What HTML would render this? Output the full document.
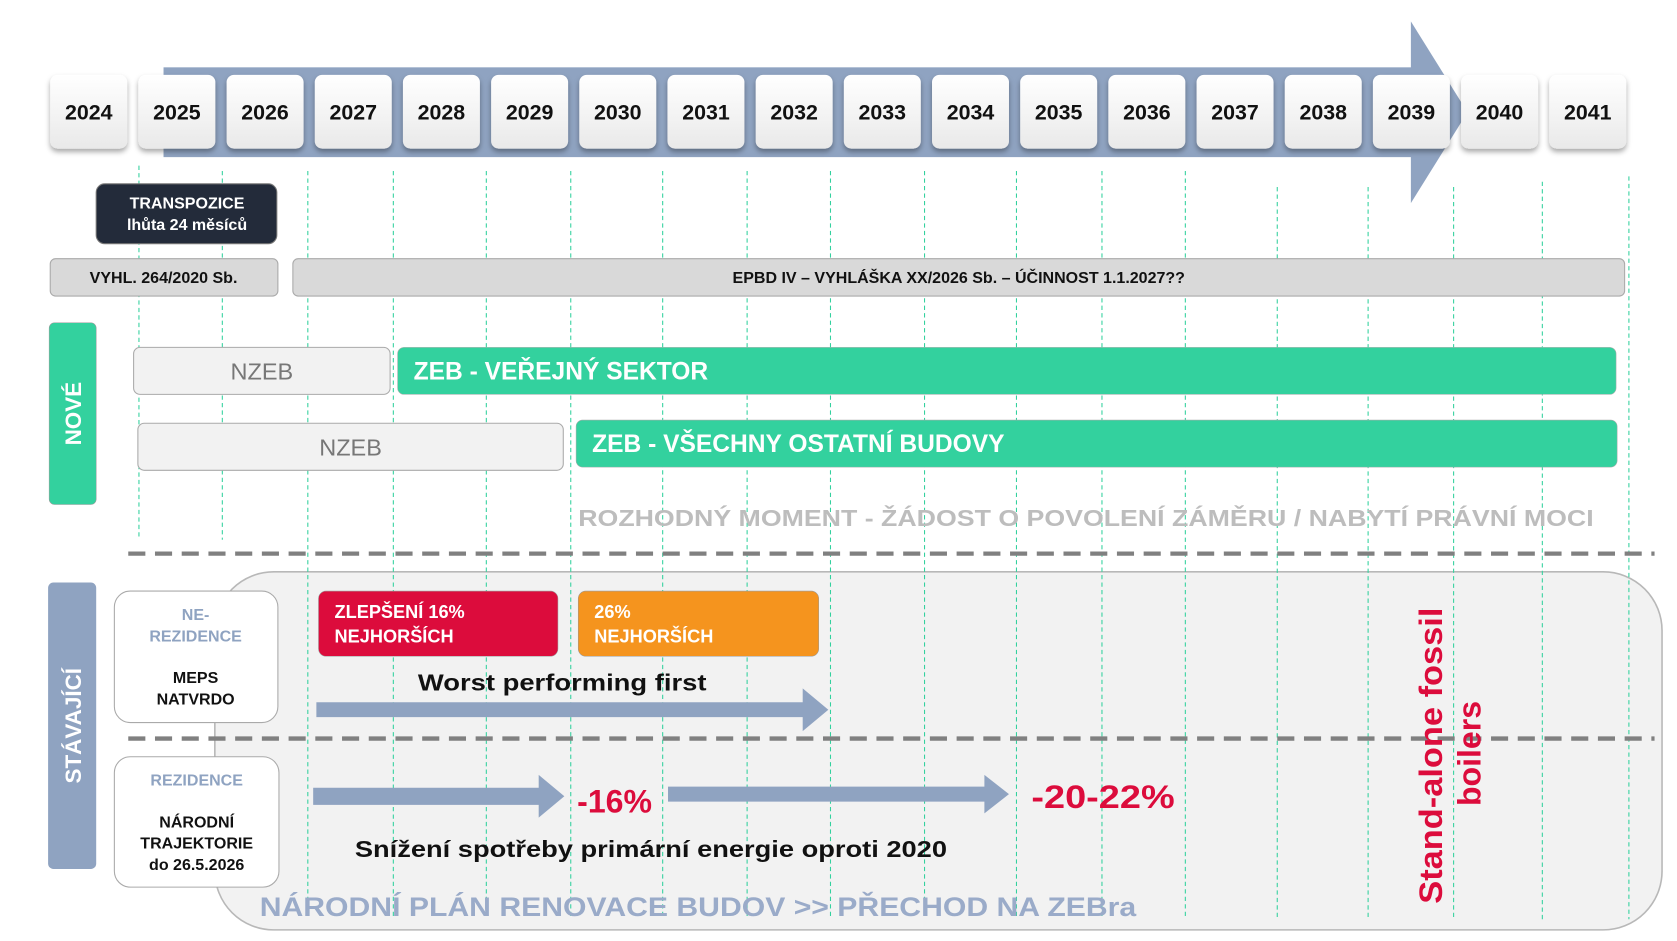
<!DOCTYPE html>
<html><head><meta charset="utf-8"><style>
html,body{margin:0;padding:0;background:#fff;width:1677px;height:941px;overflow:hidden}
svg{display:block}
text{font-family:"Liberation Sans",sans-serif;font-weight:bold}
</style></head><body>
<svg width="1677" height="941" viewBox="0 0 1569 880.4" preserveAspectRatio="none" xmlns="http://www.w3.org/2000/svg">
<defs>
<filter id="sh" x="-20%" y="-20%" width="140%" height="150%"><feDropShadow dx="0" dy="3" stdDeviation="2.5" flood-color="#000" flood-opacity="0.35"/></filter>
<linearGradient id="yg" x1="0" y1="0" x2="0" y2="1"><stop offset="0" stop-color="#ffffff"/><stop offset="1" stop-color="#e9e9e9"/></linearGradient>
</defs>
<rect x="153" y="63" width="1170" height="84" fill="#8fa3c1"/>
<polygon points="1320,20 1373,105 1320,190" fill="#8fa3c1"/>
<rect x="201" y="535" width="1354" height="335" rx="55" fill="#f2f2f2" stroke="#b8b8b8" stroke-width="1.5"/>
<g stroke="#33d19e" stroke-width="1" stroke-dasharray="4,3">
<line x1="130" y1="155" x2="130" y2="505"/>
<line x1="208" y1="160" x2="208" y2="505"/>
<line x1="288" y1="160" x2="288" y2="860"/>
<line x1="368" y1="160" x2="368" y2="860"/>
<line x1="455" y1="160" x2="455" y2="860"/>
<line x1="534" y1="160" x2="534" y2="860"/>
<line x1="620" y1="160" x2="620" y2="860"/>
<line x1="699" y1="160" x2="699" y2="860"/>
<line x1="777" y1="160" x2="777" y2="860"/>
<line x1="865" y1="160" x2="865" y2="860"/>
<line x1="951" y1="160" x2="951" y2="860"/>
<line x1="1031" y1="160" x2="1031" y2="860"/>
<line x1="1109" y1="160" x2="1109" y2="860"/>
<line x1="1195" y1="175" x2="1195" y2="860"/>
<line x1="1280" y1="175" x2="1280" y2="860"/>
<line x1="1360" y1="175" x2="1360" y2="860"/>
<line x1="1443" y1="170" x2="1443" y2="860"/>
<line x1="1524" y1="165" x2="1524" y2="860"/>
</g>
<g font-size="20" text-anchor="middle" fill="#111">
<g filter="url(#sh)" fill="url(#yg)">
<rect x="47" y="70" width="72" height="69" rx="7"/><rect x="129.5" y="70" width="72" height="69" rx="7"/><rect x="212" y="70" width="72" height="69" rx="7"/><rect x="294.5" y="70" width="72" height="69" rx="7"/><rect x="377" y="70" width="72" height="69" rx="7"/><rect x="459.5" y="70" width="72" height="69" rx="7"/><rect x="542" y="70" width="72" height="69" rx="7"/><rect x="624.5" y="70" width="72" height="69" rx="7"/><rect x="707" y="70" width="72" height="69" rx="7"/><rect x="789.5" y="70" width="72" height="69" rx="7"/><rect x="872" y="70" width="72" height="69" rx="7"/><rect x="954.5" y="70" width="72" height="69" rx="7"/><rect x="1037" y="70" width="72" height="69" rx="7"/><rect x="1119.5" y="70" width="72" height="69" rx="7"/><rect x="1202" y="70" width="72" height="69" rx="7"/><rect x="1284.5" y="70" width="72" height="69" rx="7"/><rect x="1367" y="70" width="72" height="69" rx="7"/><rect x="1449.5" y="70" width="72" height="69" rx="7"/>
</g>
<text x="83" y="112">2024</text><text x="165.5" y="112">2025</text><text x="248" y="112">2026</text><text x="330.5" y="112">2027</text><text x="413" y="112">2028</text><text x="495.5" y="112">2029</text><text x="578" y="112">2030</text><text x="660.5" y="112">2031</text><text x="743" y="112">2032</text><text x="825.5" y="112">2033</text><text x="908" y="112">2034</text><text x="990.5" y="112">2035</text><text x="1073" y="112">2036</text><text x="1155.5" y="112">2037</text><text x="1238" y="112">2038</text><text x="1320.5" y="112">2039</text><text x="1403" y="112">2040</text><text x="1485.5" y="112">2041</text>
</g>
<rect x="90" y="172" width="169" height="56" rx="8" fill="#232b3a" stroke="#777" stroke-width="1"/>
<text x="175" y="195" font-size="15" fill="#fff" text-anchor="middle">TRANSPOZICE</text>
<text x="175" y="215" font-size="15" fill="#fff" text-anchor="middle">lhůta 24 měsíců</text>
<rect x="47" y="242" width="213" height="35" rx="5" fill="#d9d9d9" stroke="#aaa"/>
<text x="153" y="265" font-size="15" fill="#111" text-anchor="middle">VYHL. 264/2020 Sb.</text>
<rect x="274" y="242" width="1246" height="35" rx="5" fill="#d9d9d9" stroke="#aaa"/>
<text x="897" y="265" font-size="15" fill="#111" text-anchor="middle">EPBD IV – VYHLÁŠKA XX/2026 Sb. – ÚČINNOST 1.1.2027??</text>
<rect x="46" y="302" width="44" height="170" rx="5" fill="#33d19e" stroke="#999" stroke-width="0.5"/>
<text transform="translate(76,387) rotate(-90)" font-size="21" fill="#fff" text-anchor="middle">NOVÉ</text>
<rect x="125" y="325" width="240" height="44" rx="6" fill="#f2f2f2" stroke="#aaa"/>
<text x="245" y="355" font-size="22" style="font-weight:normal" fill="#777" text-anchor="middle">NZEB</text>
<rect x="372" y="325" width="1140" height="44" rx="6" fill="#33d19e" stroke="#aaa" stroke-width="0.5"/>
<text x="387" y="355" font-size="23" fill="#fff">ZEB - VEŘEJNÝ SEKTOR</text>
<rect x="129" y="396" width="398" height="44" rx="6" fill="#f2f2f2" stroke="#aaa"/>
<text x="328" y="426" font-size="22" style="font-weight:normal" fill="#777" text-anchor="middle">NZEB</text>
<rect x="539" y="393" width="974" height="44" rx="6" fill="#33d19e" stroke="#aaa" stroke-width="0.5"/>
<text x="554" y="423" font-size="23" fill="#fff">ZEB - VŠECHNY OSTATNÍ BUDOVY</text>
<text x="541" y="492" font-size="22" fill="#bdbdbd" textLength="950" lengthAdjust="spacingAndGlyphs">ROZHODNÝ MOMENT - ŽÁDOST O POVOLENÍ ZÁMĚRU  / NABYTÍ PRÁVNÍ MOCI</text>
<line x1="120" y1="518" x2="1548" y2="518" stroke="#808080" stroke-width="4" stroke-dasharray="16,9"/>
<line x1="120" y1="691" x2="1548" y2="691" stroke="#808080" stroke-width="4" stroke-dasharray="16,9"/>
<rect x="45" y="545" width="45" height="268" rx="5" fill="#8fa3c1"/>
<text transform="translate(76,679) rotate(-90)" font-size="21" fill="#fff" text-anchor="middle">STÁVAJÍCÍ</text>
<rect x="107" y="553" width="153" height="123" rx="15" fill="#fff" stroke="#aaa"/>
<g font-size="15" text-anchor="middle">
<text x="183" y="580" fill="#8fa3c1">NE-</text>
<text x="183" y="600" fill="#8fa3c1">REZIDENCE</text>
<text x="183" y="639" fill="#111">MEPS</text>
<text x="183" y="659" fill="#111">NATVRDO</text>
</g>
<rect x="107" y="708" width="154" height="122" rx="15" fill="#fff" stroke="#aaa"/>
<g font-size="15" text-anchor="middle">
<text x="184" y="735" fill="#8fa3c1">REZIDENCE</text>
<text x="184" y="774" fill="#111">NÁRODNÍ</text>
<text x="184" y="794" fill="#111">TRAJEKTORIE</text>
<text x="184" y="814" fill="#111">do 26.5.2026</text>
</g>
<rect x="298" y="553" width="224" height="61" rx="7" fill="#dc0c3c" stroke="#999" stroke-width="0.5"/>
<text x="313" y="578" font-size="17" fill="#fff">ZLEPŠENÍ 16%</text>
<text x="313" y="601" font-size="17" fill="#fff">NEJHORŠÍCH</text>
<rect x="541" y="553" width="225" height="61" rx="7" fill="#f5941e" stroke="#999" stroke-width="0.5"/>
<text x="556" y="578" font-size="17" fill="#fff">26%</text>
<text x="556" y="601" font-size="17" fill="#fff">NEJHORŠÍCH</text>
<text x="391" y="646" font-size="22" fill="#111" textLength="270" lengthAdjust="spacingAndGlyphs">Worst performing first</text>
<polygon points="296,657 751,657 751,644 775,664 751,684 751,671 296,671" fill="#8fa3c1"/>
<polygon points="293,737 504,737 504,725 528,745 504,765 504,753 293,753" fill="#8fa3c1"/>
<text x="540" y="760" font-size="30" fill="#dc0c3c">-16%</text>
<polygon points="625,736 921,736 921,725 944,743 921,761 921,750 625,750" fill="#8fa3c1"/>
<text x="965" y="756" font-size="30" fill="#dc0c3c" textLength="134" lengthAdjust="spacingAndGlyphs">-20-22%</text>
<text x="332" y="802" font-size="22" fill="#111" textLength="554" lengthAdjust="spacingAndGlyphs">Snížení spotřeby primární energie oproti 2020</text>
<text x="243" y="857" font-size="25" fill="#9aabc9" textLength="820" lengthAdjust="spacingAndGlyphs">NÁRODNÍ PLÁN RENOVACE BUDOV &gt;&gt; PŘECHOD NA ZEBra</text>
<text transform="translate(1349,707) rotate(-90)" font-size="30" fill="#dc0c3c" text-anchor="middle" textLength="277" lengthAdjust="spacingAndGlyphs">Stand-alone fossil</text>
<text transform="translate(1385,705) rotate(-90)" font-size="30" fill="#dc0c3c" text-anchor="middle">boilers</text>
</svg>
</body></html>
